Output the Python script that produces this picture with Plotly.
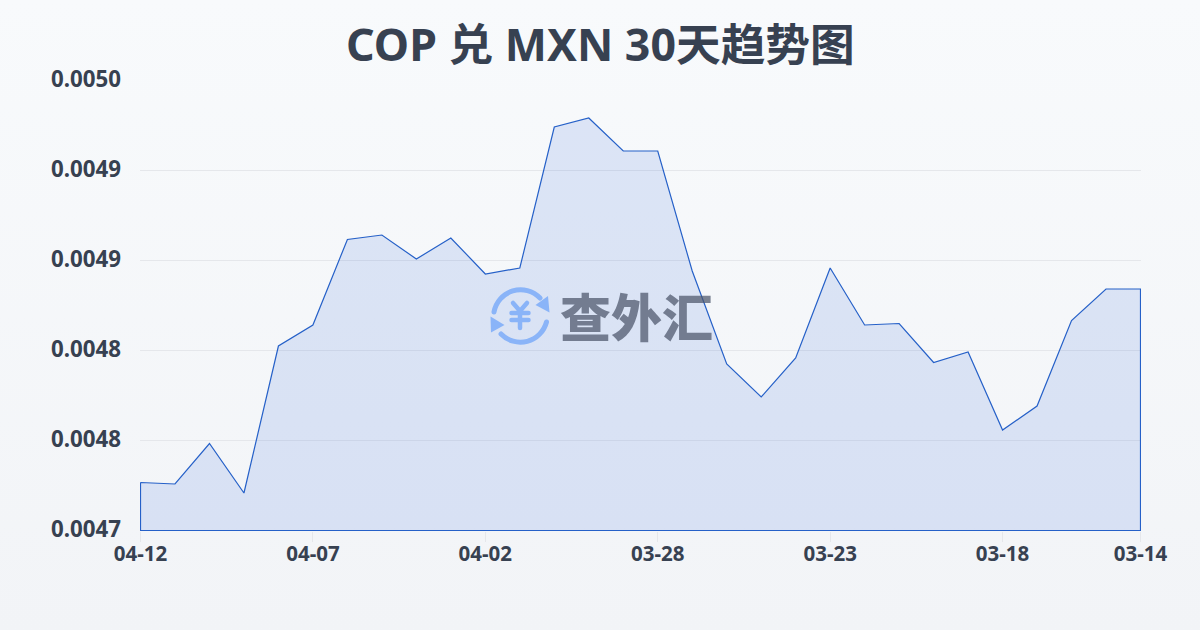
import base64
import plotly.graph_objects as go

title_text = "COP 兑 MXN 30天趋势图"
watermark_text = "查外汇"

dates = ["04-12", "04-11", "04-10", "04-09", "04-08", "04-07", "04-06", "04-05", "04-04", "04-03",
         "04-02", "04-01", "03-31", "03-30", "03-29", "03-28", "03-27", "03-26", "03-25", "03-24",
         "03-23", "03-22", "03-21", "03-20", "03-19", "03-18", "03-17", "03-16", "03-15", "03-14"]
rates = [0.004732, 0.004731, 0.004758, 0.004725, 0.004823, 0.004837, 0.004894, 0.004897, 0.004881, 0.004895,
         0.004871, 0.004875, 0.004969, 0.004975, 0.004953, 0.004953, 0.004873, 0.004811, 0.004789, 0.004815,
         0.004875, 0.004837, 0.004838, 0.004812, 0.004819, 0.004767, 0.004783, 0.004840, 0.004861, 0.004861]

x_ticks = ["04-12", "04-07", "04-02", "03-28", "03-23", "03-18", "03-14"]
y_ticks = [0.0047, 0.00476, 0.00482, 0.00488, 0.00494, 0.0050]
y_labels = ["0.0047", "0.0048", "0.0048", "0.0049", "0.0049", "0.0050"]
y_min, y_max = 0.0047, 0.0050

W, H = 1200, 630
INK = "#374151"
FONT = "'Noto Sans', 'Noto Sans CJK SC', sans-serif"

# half-pixel padding so the outline of the area falls on whole device pixels
half_px_y = 0.5 * (y_max - y_min) / 450
half_px_x = 0.5 * (len(dates) - 1) / 1000

# Logo glyph of the watermark (two circular arrows around a yen sign)
icon_svg = """<svg xmlns="http://www.w3.org/2000/svg" width="70" height="70" viewBox="485 280 70 70">
<g fill="none" stroke="#8ab4f8" stroke-width="5" stroke-linecap="round" stroke-linejoin="round">
<path d="M494 312 A27 27 0 0 1 540 298"/>
<path d="M546.500 322 A27 27 0 0 1 501 334"/>
<path d="M513 303 L520 311 L527 303 M511.500 313 H528.500 M511.500 320 H528.500 M520 311 V328" stroke-width="4.500"/>
</g>
<g fill="#8ab4f8">
<path d="M548 296 L549.500 312.500 L535.500 305 Z"/>
<path d="M490.500 316.500 L491 332.500 L504.500 325 Z"/>
</g></svg>"""
icon_src = "data:image/svg+xml;base64," + base64.b64encode(icon_svg.encode()).decode()

fig = go.Figure()
fig.add_trace(go.Scatter(
    x=dates + [dates[-1], dates[0], dates[0]],
    y=rates + [y_min, y_min, rates[0]],
    mode="lines",
    fill="toself",
    fillcolor="rgba(37,90,215,0.13)",
    line=dict(color="#2560c8", width=1.2),
    hoverinfo="skip",
    cliponaxis=False,
    showlegend=False,
))

fig.update_layout(
    width=W, height=H,
    autosize=False,
    margin=dict(l=0, r=0, t=0, b=0),
    paper_bgcolor="rgba(0,0,0,0)",
    plot_bgcolor="rgba(0,0,0,0)",
    font=dict(family=FONT, color=INK),
    showlegend=False,
    xaxis=dict(
        type="category",
        categoryorder="array",
        categoryarray=dates,
        domain=[140 / W, 1141 / W],
        range=[-half_px_x, len(dates) - 1 + half_px_x],
        tickmode="array",
        tickvals=x_ticks,
        ticktext=x_ticks,
        ticks="outside",
        ticklen=10,
        tickcolor="#e5e7eb",
        tickwidth=1,
        ticklabelstandoff=-6,
        tickfont=dict(size=20.5, color=INK, family=FONT, weight="bold"),
        showgrid=False,
        zeroline=False,
        showline=False,
        automargin=False,
    ),
    yaxis=dict(
        domain=[(H - 531) / H, (H - 80) / H],
        range=[y_min - half_px_y, y_max + half_px_y],
        tickmode="array",
        tickvals=y_ticks,
        ticktext=y_labels,
        ticks="",
        ticklabelstandoff=18,
        ticklabelshift=-1,
        tickfont=dict(size=22.3, color=INK, family=FONT, weight="bold"),
        showgrid=True,
        gridcolor="#e5e7eb",
        gridwidth=1,
        zeroline=False,
        showline=False,
        automargin=False,
    ),
    annotations=[
        dict(text=title_text, xref="paper", yref="paper", x=0.5, y=1 - 44 / H,
             xanchor="center", yanchor="middle", showarrow=False,
             font=dict(size=44.7, color=INK, family=FONT, weight="bold")),
        dict(text=watermark_text, xref="paper", yref="paper", x=636 / W, y=1 - 315 / H,
             xanchor="center", yanchor="middle", showarrow=False,
             font=dict(size=51, color="rgba(75,85,105,0.72)", family="'Noto Sans CJK SC'", weight=900)),
    ],
    images=[dict(source=icon_src, xref="paper", yref="paper", x=485 / W, y=1 - 280 / H,
                 sizex=70 / W, sizey=70 / H, xanchor="left", yanchor="top", layer="above")],
)

fig.write_html(
    "out.html",
    config=dict(displayModeBar=False),
    post_script="document.documentElement.style.margin='0';document.body.style.margin='0';"
                "document.body.style.height='630px';document.body.style.overflow='hidden';"
                "document.body.style.background='linear-gradient(180deg,#f8fafc 0%,#f2f4f7 100%)';",
)
